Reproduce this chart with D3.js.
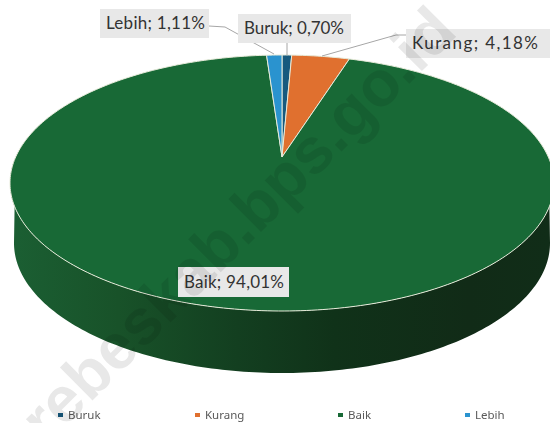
<!DOCTYPE html>
<html>
<head>
<meta charset="utf-8">
<style>
	html, body { margin: 0; padding: 0; background: #fff; overflow: hidden; }
	svg { display: block; filter: blur(0.35px); }
</style>
<script src="https://cdn.jsdelivr.net/npm/d3@7"></script>
</head>
<body>
<div id="container"></div>
<script>
const categories = ["Buruk", "Kurang", "Baik", "Lebih"];
const values = [0.70, 4.18, 94.01, 1.11];
const valueLabels = ["0,70%", "4,18%", "94,01%", "1,11%"];
const colors = ["#175a7e", "#e0702f", "#186936", "#2a93cf"];
const watermark = "brebeskab.bps.go.id";

const width = 550;
const height = 423;

const svg = d3.select("#container").append("svg")
	.attr("width", width)
	.attr("height", height);

// pie geometry, the apex sits above the ellipse centre (perspective)
const cx = 282, cy = 183, rx = 272, ry = 128;
const apexShift = -0.203;
const depth = { dy: 60, rx: 268, ry: 130 };
const widest = Math.acos(apexShift); // angle where the ellipse is widest

function project(a, r, ell) {
	const e = ell || { cy: cy, rx: rx, ry: ry };
	const u = r * Math.sin(a);
	const t = -r * Math.cos(a);
	const den = 1 + apexShift * t;
	return [
		cx + (e.rx * Math.sqrt(1 - apexShift * apexShift) * u) / den,
		e.cy + (e.ry * (t + apexShift)) / den,
	];
}

const pie = d3.pie().sort(null).value((d) => d);
const arcs = pie(values);
const line = d3.line();

function rimPoints(a0, a1, ell) {
	const n = Math.max(2, Math.ceil(Math.abs(a1 - a0) * 60));
	return d3.range(n + 1).map((i) => project(a0 + ((a1 - a0) * i) / n, 1, ell));
}

// side wall
const grad = svg.append("defs").append("linearGradient")
	.attr("id", "side")
	.attr("gradientUnits", "userSpaceOnUse")
	.attr("x1", 10).attr("x2", 550).attr("y1", 0).attr("y2", 0);
[
	[0, "#1b5f33"],
	[0.2, "#185229"],
	[0.42, "#133f20"],
	[0.6, "#103219"],
	[0.85, "#112b17"],
	[1, "#112d18"],
].forEach((s) => grad.append("stop").attr("offset", s[0]).attr("stop-color", s[1]));

const lower = { cy: cy + depth.dy, rx: depth.rx, ry: depth.ry };
const topEdge = rimPoints(widest - 0.2, Math.PI * 2 - widest + 0.2);
const bottomEdge = rimPoints(Math.PI * 2 - widest, widest, lower);
svg.append("path")
	.attr("d", line(topEdge.concat(bottomEdge)) + "Z")
	.attr("fill", "url(#side)");

// top face
svg.append("g").selectAll("path")
	.data(arcs)
	.join("path")
	.attr("d", (d) => line([project(0, 0)].concat(rimPoints(d.startAngle, d.endAngle))) + "Z")
	.attr("fill", (d, i) => colors[i])
	.attr("stroke", "#e6ead9")
	.attr("stroke-width", 1)
	.attr("stroke-linejoin", "round");

// leader lines and data labels, in the order of categories
const labelBoxes = [
	{ x: 238, y: 14, w: 113, h: 29, tw: 100, leader: [[287, 43], [287, 55]] },
	{ x: 406, y: 29, w: 144, h: 29, tw: 126, leader: [[406, 35], [396, 35], [322, 56]] },
	{ x: 178, y: 267, w: 111, h: 30, tw: 100, leader: null },
	{ x: 100, y: 9, w: 109, h: 29, tw: 99, leader: [[209, 26], [225, 27], [274, 54]] },
];

svg.append("g").selectAll("path")
	.data(labelBoxes.filter((d) => d.leader))
	.join("path")
	.attr("d", (d) => line(d.leader))
	.attr("fill", "none")
	.attr("stroke", "#a6a6a6")
	.attr("stroke-width", 1);

const labels = svg.append("g").selectAll("g")
	.data(labelBoxes)
	.join("g")
	.attr("transform", (d) => `translate(${d.x},${d.y})`);

labels.append("rect")
	.attr("width", (d) => d.w)
	.attr("height", (d) => d.h)
	.attr("fill", "#e8e8e8");

labels.append("text")
	.attr("x", 6)
	.attr("y", (d) => d.h / 2 + 5.5)
	.attr("font-family", "Lato")
	.attr("font-size", 17)
	.attr("fill", "#333")
	.attr("textLength", (d) => d.tw)
	.text((d, i) => `${categories[i]}; ${valueLabels[i]}`);

// legend
const legendX = d3.scaleOrdinal().domain(categories).range([58, 195, 338, 465]);
const legend = svg.append("g").selectAll("g")
	.data(categories)
	.join("g")
	.attr("transform", (d) => `translate(${legendX(d)},415)`);

legend.append("rect")
	.attr("y", -2)
	.attr("width", 5)
	.attr("height", 4)
	.attr("fill", (d, i) => colors[i]);

legend.append("text")
	.attr("x", 10)
	.attr("y", 4)
	.attr("font-family", "Noto Sans")
	.attr("font-size", 11.5)
	.attr("fill", "#595959")
	.text((d) => d);

// watermark goes over everything
svg.append("text")
	.attr("transform", "translate(19,474) rotate(-45)")
	.attr("font-family", "Liberation Sans")
	.attr("font-weight", "bold")
	.attr("font-size", 64)
	.attr("fill", "#000")
	.attr("opacity", 0.09)
	.text(watermark);
</script>
</body>
</html>
